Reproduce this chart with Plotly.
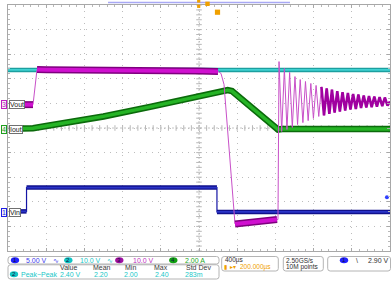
import plotly.graph_objects as go

W, H = 391, 293

# ---------------- data (time in µs from trigger, amplitude in graticule divisions) -------------
cyan_t = [-2000, 2000]
cyan_v = [2.36, 2.36]

vin_t = [-1874, -1806, -1806, 188, 188, 2000]
vin_v = [-3.39, -3.39, -2.42, -2.42, -3.41, -3.41]

iout_t = [-1853, -1738, -1600, -1000, -500, 0, 250, 300, 345, 827, 870, 2000]
iout_v = [-0.02, -0.01, 0.08, 0.47, 0.87, 1.27, 1.48, 1.54, 1.50, -0.06, -0.04, -0.04]

vout_t = [-1822, -1738, -1696, -1600, 0, 199, 230, 262, 377, 600, 817, 827]
vout_v = [0.95, 0.95, 2.38, 2.37, 2.32, 2.30, 2.22, 1.77, -3.90, -3.82, -3.72, -3.72]

ring_t = [838, 866, 894, 921, 949, 977, 1005, 1032, 1060, 1088, 1115, 1143, 1171, 1198,
          1226, 1254, 1282, 1309, 1337, 1365, 1392, 1420, 1448, 1475, 1503, 1531, 1559,
          1586, 1614, 1642, 1669, 1697, 1725, 1752, 1780, 1808, 1836, 1863, 1891, 1919,
          1946, 1974, 2000]
ring_v = [2.70, -0.14, 2.42, -0.06, 2.26, 0.02, 2.09, 0.14, 1.97, 0.22, 1.89, 0.30, 1.81,
          0.39, 1.73, 0.47, 1.67, 0.51, 1.61, 0.57, 1.56, 0.63, 1.50, 0.67, 1.46, 0.71,
          1.42, 0.75, 1.38, 0.77, 1.36, 0.81, 1.32, 0.83, 1.30, 0.85, 1.28, 0.87, 1.26,
          0.89, 1.24, 0.91, 1.08]

# channel settings / readouts
ch_scale_text = ["5.00 V", "10.0 V", "10.0 V", "2.00 A"]
meas_headers = ["Value", "Mean", "Min", "Max", "Std Dev"]
meas_name = "Peak−Peak"
meas_values = ["2.40 V", "2.20", "2.00", "2.40", "283m"]
time_div = "400µs"
h_delay = "200.000µs"
sample_rate = "2.50GS/s"
rec_len = "10M points"
trig_level_v = 2.90
trig_level_text = "2.90 V"
ch1_scale = 5.0
ch1_offset = -3.39

BLUE, CYAN, MAG, GREEN, ORANGE = "#1e1ee6", "#14c0c0", "#c020c0", "#1f9f1f", "#f0a000"

fig = go.Figure()


def segs(t, v, windows):
    xs, ys = [], []
    for a, b in windows:
        for ti, vi in zip(t, v):
            if a <= ti <= b:
                xs.append(ti)
                ys.append(vi)
        xs.append(None)
        ys.append(None)
    return xs, ys


def line(x, y, color, width):
    fig.add_trace(go.Scatter(x=x, y=y, mode="lines", line=dict(color=color, width=width),
                             hoverinfo="skip", showlegend=False))


# graticule centre-line tick marks
tx = [-2000 + 80 * i for i in range(51)]
ty = [-5 + 0.2 * i for i in range(51)]
fig.add_trace(go.Scatter(x=tx, y=[0] * len(tx), mode="markers",
                         marker=dict(symbol="line-ns-open", size=4, color="#b8b8b8",
                                     line=dict(color="#b8b8b8", width=1)),
                         hoverinfo="skip", showlegend=False))
fig.add_trace(go.Scatter(x=[0] * len(ty), y=ty, mode="markers",
                         marker=dict(symbol="line-ew-open", size=4, color="#b8b8b8",
                                     line=dict(color="#b8b8b8", width=1)),
                         hoverinfo="skip", showlegend=False))

# cyan
line(cyan_t, cyan_v, "#1c9f9f", 4.5)
line(cyan_t, cyan_v, "#3fd2d2", 1.8)

# blue (Vin)
line(vin_t, vin_v, "#1515a5", 1.2)
bx2, by2 = [], []
for i in range(len(vin_t) - 1):
    if vin_v[i] == vin_v[i + 1]:
        bx2 += [vin_t[i], vin_t[i + 1], None]
        by2 += [vin_v[i], vin_v[i + 1], None]
line(bx2, by2, "#10108c", 4.5)
line(bx2, by2, "#2a34c8", 1.8)

# green (Iout)
line(iout_t, iout_v, "#0b6a0b", 6.5)
line(iout_t, iout_v, "#26b426", 3.4)

# magenta (Vout)
all_t = vout_t + ring_t
all_v = vout_v + ring_v
line(all_t, all_v, "#c850c8", 1.0)
mx, my = segs(vout_t, vout_v, [(-1822, -1738), (-1696, 215), (377, 817)])
line(mx, my, "#7e007e", 7)
line(mx, my, "#d010d0", 4)
rx, ry = segs(ring_t, ring_v, [(1280, 2000)])
line(rx, ry, "#a000a0", 2.6)

# trigger level marker
fig.add_trace(go.Scatter(x=[1968], y=[trig_level_v / ch1_scale + ch1_offset], mode="markers",
                         marker=dict(color="#3040ff", size=4), hoverinfo="skip", showlegend=False))

fig.update_layout(
    width=W, height=H, margin=dict(l=0, r=0, t=0, b=0),
    paper_bgcolor="white", plot_bgcolor="white",
    xaxis=dict(domain=[8 / W, 390 / W], range=[-2000, 2000], tickvals=[-2000 + 400 * i for i in range(11)],
               showticklabels=False, showgrid=True, gridcolor="#bdbdbd", griddash="1px,5px", gridwidth=1,
               zeroline=False, showline=True, linecolor="#a8a8a8", linewidth=1, mirror="ticks",
               ticks="inside", ticklen=3, tickcolor="#a8a8a8",
               minor=dict(ticks="inside", ticklen=2, dtick=80, tickcolor="#b8b8b8", showgrid=False)),
    yaxis=dict(domain=[1 - 251 / H, 1 - 5 / H], range=[-5, 5], tickvals=list(range(-5, 6)),
               showticklabels=False, showgrid=True, gridcolor="#bdbdbd", griddash="1px,5px", gridwidth=1,
               zeroline=False, showline=True, linecolor="#a8a8a8", linewidth=1, mirror="ticks",
               ticks="inside", ticklen=3, tickcolor="#a8a8a8",
               minor=dict(ticks="inside", ticklen=2, dtick=0.2, tickcolor="#b8b8b8", showgrid=False)),
)

# centre lines
fig.add_shape(type="line", x0=0, x1=0, y0=-5, y1=5, xref="x", yref="y",
              line=dict(color="#c4c4c4", width=1, dash="2px,2px"), layer="below")
fig.add_shape(type="line", x0=-2000, x1=2000, y0=0, y1=0, xref="x", yref="y",
              line=dict(color="#c4c4c4", width=1, dash="2px,2px"), layer="below")


def P(x, y):
    return x / W, 1 - y / H


def txt(x, y, s, color, size=7, xanchor="left", bg=None, border=None):
    px, py = P(x, y)
    fig.add_annotation(x=px, y=py, xref="paper", yref="paper", text=s, showarrow=False,
                       xanchor=xanchor, yanchor="middle",
                       font=dict(size=size, color=color, family="Liberation Sans"),
                       bgcolor=bg, bordercolor=border, borderwidth=1 if border else 0, borderpad=0)


def rbox(x0, y0, x1, y1, r=2.5, color="#b4b4b4"):
    X0, X1 = x0 / W, x1 / W
    Yt, Yb = 1 - y0 / H, 1 - y1 / H
    rx, ry = r / W, r / H
    path = (f"M {X0+rx},{Yt} L {X1-rx},{Yt} Q {X1},{Yt} {X1},{Yt-ry} L {X1},{Yb+ry} "
            f"Q {X1},{Yb} {X1-rx},{Yb} L {X0+rx},{Yb} Q {X0},{Yb} {X0},{Yb+ry} "
            f"L {X0},{Yt-ry} Q {X0},{Yt} {X0+rx},{Yt} Z")
    fig.add_shape(type="path", path=path, xref="paper", yref="paper",
                  line=dict(color=color, width=1), fillcolor="rgba(0,0,0,0)")


def badge(x, y, n, color):
    x0, y0 = P(x - 4.2, y - 3)
    x1, y1 = P(x + 4.2, y + 3)
    fig.add_shape(type="circle", xref="paper", yref="paper", x0=x0, x1=x1, y0=y1, y1=y0,
                  fillcolor=color, line=dict(color=color, width=0))
    txt(x, y, n, "#101040", size=6, xanchor="center")


# left channel labels
for (yy, n, name, col) in [(104.5, "3", "Vout", MAG), (130, "4", "Iout", GREEN), (212.5, "1", "Vin", BLUE)]:
    txt(3.6, yy, n, col, size=7, xanchor="center", bg="#f4f4f4", border=col)
    txt(8.5, yy, name, "#202020", size=7, xanchor="left", bg="white", border="#707070")

# info bar
rbox(8, 256.5, 219, 264)
rbox(8, 264.8, 219, 279)
badge(15, 260.3, "1", "#2020ff")
txt(26, 260.3, ch_scale_text[0], "#3a3aee")
txt(56, 260.3, "∿", "#3a3aee", xanchor="center")
badge(68.3, 260.3, "2", "#10c4c4")
txt(80, 260.3, ch_scale_text[1], "#18c8c8")
txt(110, 260.3, "∿", "#18c8c8", xanchor="center")
badge(119.3, 260.3, "3", "#a010a0")
txt(132.7, 260.3, ch_scale_text[2], "#c030c0")
badge(173.3, 260.3, "4", "#10a010")
txt(185, 260.3, ch_scale_text[3], "#22a822")

hx = [68, 102, 130, 161.3, 198]
for h, x in zip(meas_headers, hx):
    txt(x, 267.8, h, "#3a3a3a", xanchor="center")
badge(14, 274.2, "2", "#10c4c4")
txt(21, 274.2, meas_name, "#18c8c8")
vx = [70, 100.7, 130.7, 161.7, 194]
for v, x in zip(meas_values, vx):
    txt(x, 274.2, v, "#18c8c8", xanchor="center")

rbox(221.7, 256.5, 278.3, 271)
txt(225, 260.2, time_div, "#303030", size=6.5)
txt(223.5, 266.8, "▮", ORANGE, size=5.5)
txt(229.5, 266.8, "▸▾", ORANGE, size=5.5)
txt(240, 266.8, h_delay, ORANGE, size=6.5)

rbox(283.3, 256.5, 323.3, 271)
txt(286, 260.2, sample_rate, "#303030", size=6.5)
txt(286, 266.8, rec_len, "#303030", size=6.5)

rbox(327.7, 256.5, 390.5, 271)
badge(344, 260.3, "1", "#2020ff")
txt(356.7, 260.3, "\\", "#303030", xanchor="center")
txt(368, 260.3, trig_level_text, "#303030")

# top record-view bar and trigger markers
x0, y0 = P(108, 2.5)
x1, _ = P(290, 2.5)
fig.add_shape(type="line", xref="paper", yref="paper", x0=x0, x1=x1, y0=y0, y1=y0,
              line=dict(color="#a8a8f4", width=1.5))
for (cx, cy, s) in [(198.7, 1.0, 1.6), (198.7, 6.3, 1.6), (207.5, 3.8, 2.2), (217.5, 12.2, 2.6)]:
    a0, b0 = P(cx - s, cy - s)
    a1, b1 = P(cx + s, cy + s)
    fig.add_shape(type="rect", xref="paper", yref="paper", x0=a0, x1=a1, y0=b1, y1=b0,
                  fillcolor=ORANGE, line=dict(width=0))

fig.write_html("out.html")
